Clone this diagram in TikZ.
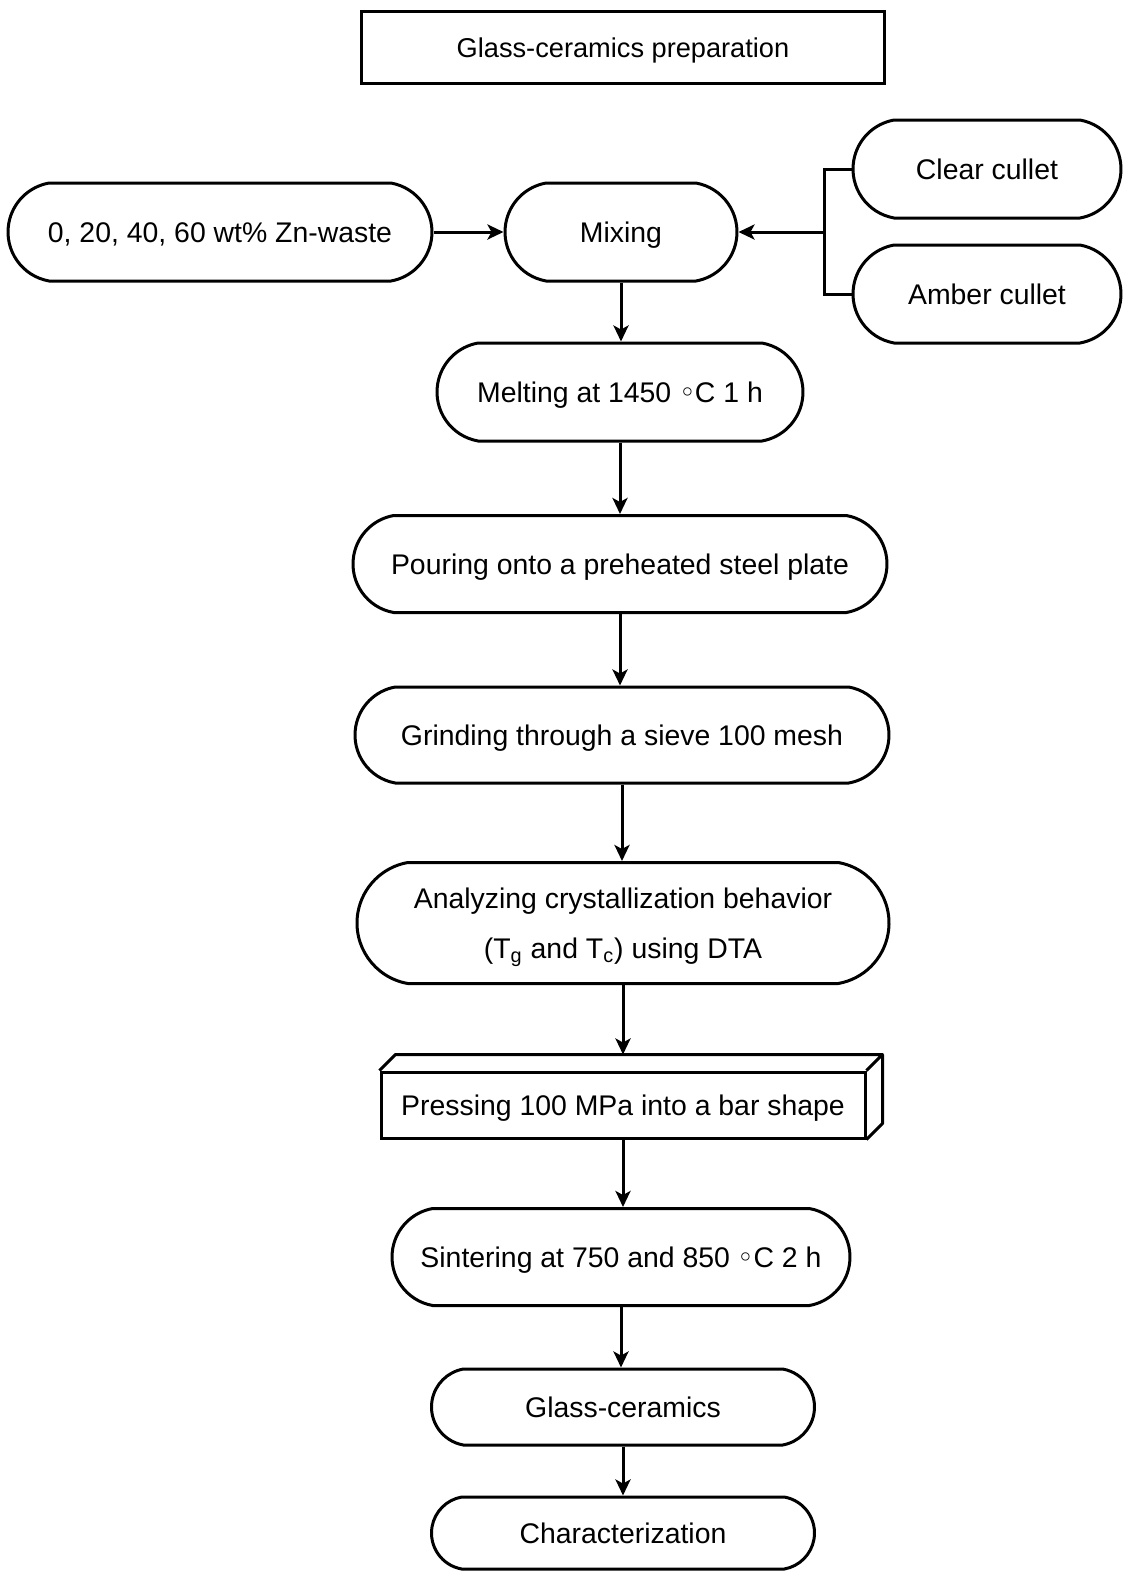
\documentclass[tikz,border=0pt]{standalone}
\usepackage{fontspec}
\setmainfont{Liberation Sans}
\newfontfamily\dejavu{DejaVu Sans}
\usetikzlibrary{shapes.misc,arrows.meta}
\newcommand{\degc}{{\dejavu\char"25E6}\kern-0.5pt C}
\begin{document}
\begin{tikzpicture}[x=0.5pt,y=-0.5pt,
  every node/.style={font=\fontsize{14.2}{25}\selectfont, inner sep=0pt, line width=1.5pt, text height=1.1em, text depth=0.1em},
  pill/.style={draw, rounded rectangle, rounded rectangle arc length=160},
  boxnode/.style={draw, rectangle},
  arr/.style={line width=1.5pt, -{Stealth[length=8pt,width=7.5pt,inset=2pt]}},
  ln/.style={line width=1.5pt}]
\useasboundingbox (0,0) rectangle (1126,1571);
\node[boxnode, minimum width=261.5pt, minimum height=36pt, font=\fontsize{13.6}{25}\selectfont] (title) at (623,47) {Glass-ceramics preparation};
\node[pill, minimum width=212pt, minimum height=49pt] (zn) at (220,232) {0, 20, 40, 60 wt\% Zn-waste};
\node[pill, minimum width=116pt, minimum height=49pt] (mix) at (621,232) {Mixing};
\node[pill, minimum width=134pt, minimum height=49pt] (clear) at (987,169) {Clear cullet};
\node[pill, minimum width=134pt, minimum height=49pt] (amber) at (987,294) {Amber cullet};
\node[pill, minimum width=183pt, minimum height=49pt] (melt) at (620,392) {Melting at 1450 \degc{} 1 h};
\node[pill, minimum width=267pt, minimum height=48.5pt] (pour) at (620,564) {Pouring onto a preheated steel plate};
\node[pill, minimum width=267pt, minimum height=48pt] (grind) at (622,735) {Grinding through a sieve 100 mesh};
\node[pill, minimum width=266pt, minimum height=60.5pt, align=center, text height={}, text depth=-6pt] (anal) at (623,923) {Analyzing crystallization behavior\\(T\textsubscript{g} and T\textsubscript{c}) using DTA};
\node[boxnode, minimum width=242pt, minimum height=33pt] (press) at (623,1105) {Pressing 100 MPa into a bar shape};
\node[pill, minimum width=229pt, minimum height=48.5pt] (sint) at (621,1257) {Sintering at 750 and 850 \degc{} 2 h};
\node[pill, minimum width=191.5pt, minimum height=38pt] (glass) at (623,1407) {Glass-ceramics};
\node[pill, minimum width=191.5pt, minimum height=36pt] (char) at (623,1533) {Characterization};
% 3D faces of the pressing bar
\coordinate (pnw) at ([shift={(16,-16)}]press.north west);
\coordinate (pne) at ([shift={(16,-16)}]press.north east);
\coordinate (pse) at ([shift={(16,-16)}]press.south east);
\draw[ln, line join=round] (press.north west) -- (pnw) -- (pne) -- (press.north east);
\draw[ln, line join=round] (pne) -- (pse) -- (press.south east);
% bracket
\coordinate (bk) at (824,232);
\draw[ln] (clear.west) -- (clear.west -| bk) -- (amber.west -| bk) -- (amber.west);
\draw[arr] (bk) -- (mix.east);
\draw[arr] (zn.east) -- (zn.east -| mix.west);
% vertical chain
\draw[arr] (mix.south) -- (mix.south |- melt.north);
\draw[arr] (melt.south) -- (melt.south |- pour.north);
\draw[arr] (pour.south) -- (pour.south |- grind.north);
\draw[arr] (grind.south) -- (grind.south |- anal.north);
\draw[arr] (anal.south) -- (anal.south |- pnw);
\draw[arr] (anal.south |- press.south) -- (anal.south |- sint.north);
\draw[arr] (sint.south) -- (sint.south |- glass.north);
\draw[arr] (glass.south) -- (glass.south |- char.north);
\end{tikzpicture}
\end{document}
